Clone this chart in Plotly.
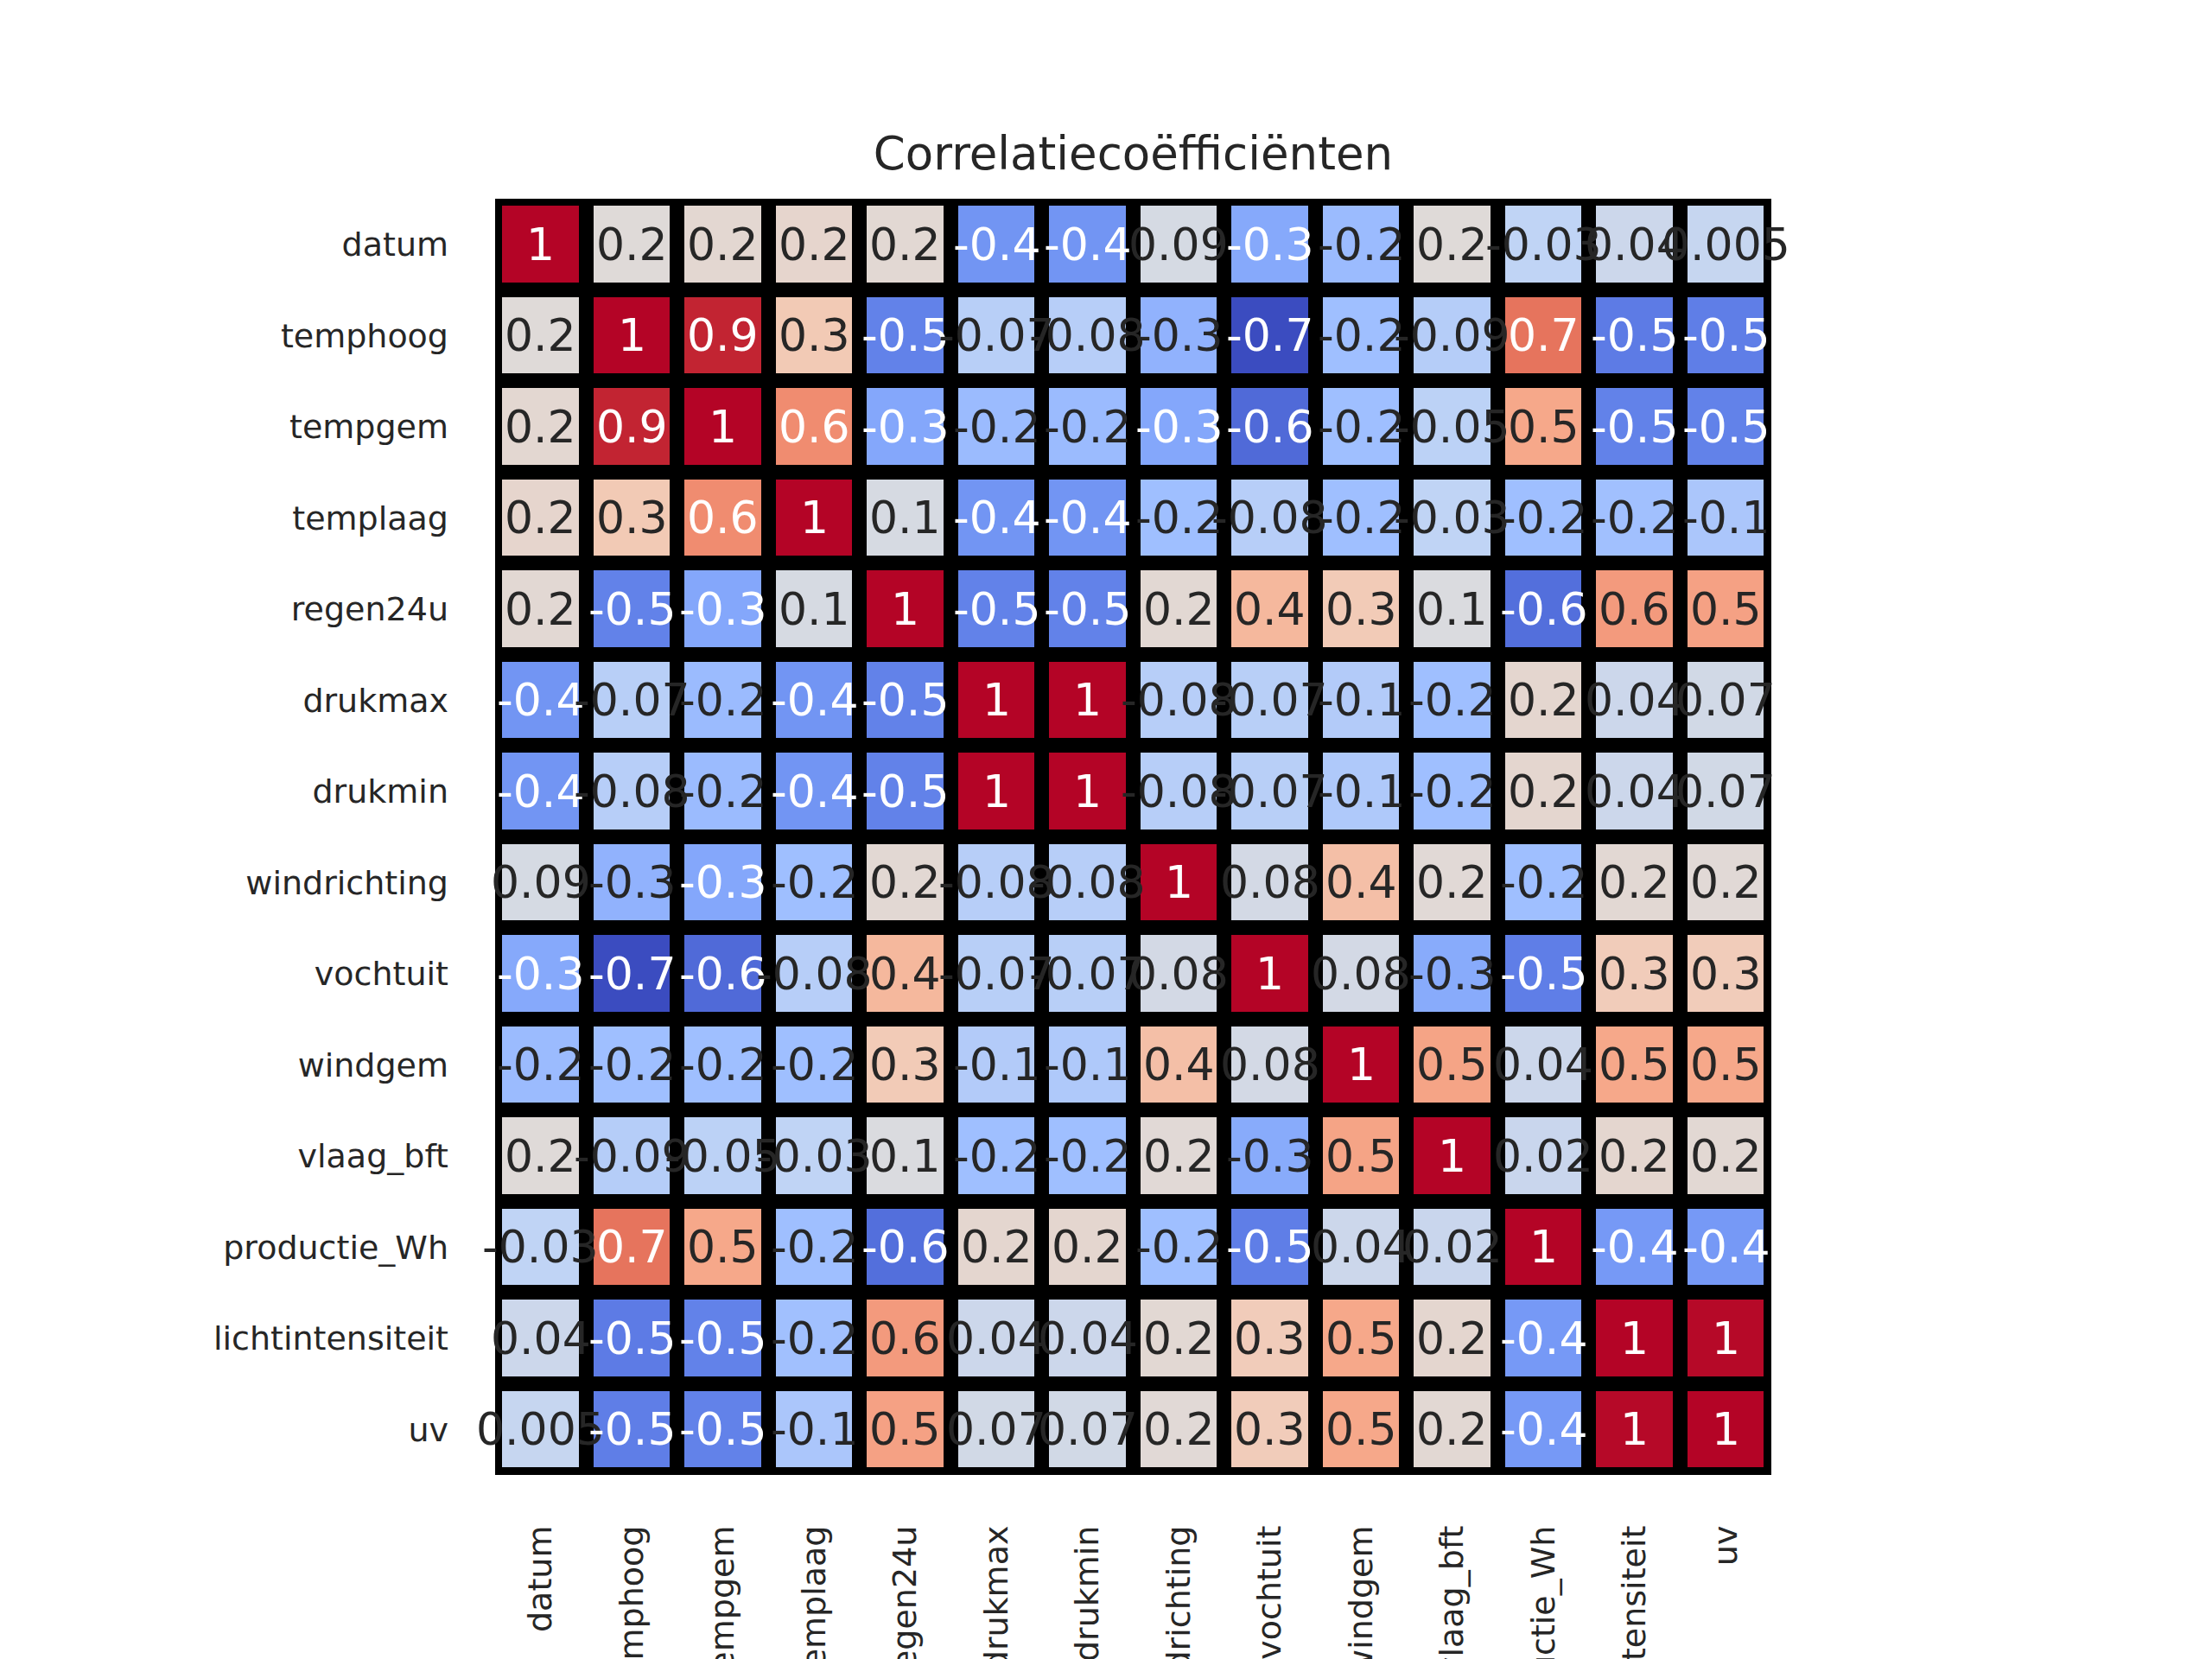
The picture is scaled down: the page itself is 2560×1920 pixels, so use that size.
import plotly.graph_objects as go

# variables in the correlation matrix
labels = ["datum", "temphoog", "tempgem", "templaag", "regen24u", "drukmax", "drukmin",
          "windrichting", "vochtuit", "windgem", "vlaag_bft", "productie_Wh",
          "lichtintensiteit", "uv"]

# upper triangle of the correlation matrix, row by row (diagonal left out)
upper_datum = [0.16, 0.19, 0.21, 0.18, -0.42, -0.42, 0.09, -0.32, -0.22, 0.16, -0.03, 0.04, 0.005]
upper_temphoog = [0.93, 0.32, -0.5, -0.07, -0.08, -0.27, -0.72, -0.2, -0.09, 0.71, -0.53, -0.52]
upper_tempgem = [0.62, -0.33, -0.22, -0.22, -0.33, -0.6, -0.2, -0.05, 0.5, -0.5, -0.5]
upper_templaag = [0.1, -0.42, -0.42, -0.2, -0.08, -0.2, -0.03, -0.2, -0.19, -0.14]
upper_regen24u = [-0.5, -0.5, 0.18, 0.42, 0.31, 0.12, -0.58, 0.56, 0.53]
upper_drukmax = [0.999, -0.08, -0.07, -0.1, -0.2, 0.2, 0.04, 0.07]
upper_drukmin = [-0.08, -0.07, -0.12, -0.2, 0.2, 0.04, 0.07]
upper_windrichting = [0.08, 0.38, 0.17, -0.2, 0.18, 0.17]
upper_vochtuit = [0.08, -0.31, -0.52, 0.3, 0.3]
upper_windgem = [0.52, 0.04, 0.5, 0.5]
upper_vlaag_bft = [0.02, 0.2, 0.18]
upper_productie = [-0.4, -0.4]
upper_licht = [0.99]

upper = [upper_datum, upper_temphoog, upper_tempgem, upper_templaag, upper_regen24u,
         upper_drukmax, upper_drukmin, upper_windrichting, upper_vochtuit, upper_windgem,
         upper_vlaag_bft, upper_productie, upper_licht, []]

# build the full symmetric matrix
n = len(labels)
corr = [[1.0] * n for _ in range(n)]
for i, row in enumerate(upper):
    for k, v in enumerate(row):
        j = i + 1 + k
        corr[i][j] = v
        corr[j][i] = v

# coolwarm colormap (11 stops)
coolwarm = ["#3b4cc0", "#5977e3", "#7b9ff9", "#9ebeff", "#c0d4f5", "#dddcdc",
            "#f2cbb7", "#f7ac8e", "#ee8468", "#d65244", "#b40426"]
colorscale = [[i / 10, c] for i, c in enumerate(coolwarm)]

zmin = min(min(r) for r in corr)
zmax = max(max(r) for r in corr)


def hex_rgb(h):
    return [int(h[k:k + 2], 16) / 255 for k in (1, 3, 5)]


def cell_color(v):
    t = (v - zmin) / (zmax - zmin) * 10
    i = min(int(t), 9)
    f = t - i
    a, b = hex_rgb(coolwarm[i]), hex_rgb(coolwarm[i + 1])
    return [a[k] + (b[k] - a[k]) * f for k in range(3)]


def luminance(rgb):
    lin = [c / 12.92 if c <= 0.03928 else ((c + 0.055) / 1.055) ** 2.4 for c in rgb]
    return 0.2126 * lin[0] + 0.7152 * lin[1] + 0.0722 * lin[2]


fig = go.Figure(go.Heatmap(
    z=corr,
    x=labels,
    y=labels,
    colorscale=colorscale,
    zmin=zmin,
    zmax=zmax,
    xgap=17,
    ygap=17,
    showscale=False,
    hoverinfo="skip",
))

# annotate each cell like seaborn does (dark text on light cells, white on dark)
annotations = []
for i in range(n):
    for j in range(n):
        v = corr[i][j]
        col = "#262626" if luminance(cell_color(v)) > 0.408 else "white"
        annotations.append(dict(
            x=labels[j], y=labels[i], text=f"{v:.1g}", showarrow=False,
            font=dict(family="DejaVu Sans", size=52, color=col),
        ))

# page body has an 8px margin, so the margins are shifted by that
fig.update_layout(
    width=2560,
    height=1920,
    margin=dict(l=565, r=518, t=222, b=221),
    paper_bgcolor="white",
    plot_bgcolor="black",
    font=dict(family="DejaVu Sans", color="#262626"),
    title=dict(text="Correlatiecoëfficiënten", x=0.5, xref="paper", xanchor="center",
               y=1 - 169 / 1920, yref="container", yanchor="middle",
               font=dict(size=53, color="#262626")),
    annotations=annotations,
)

fig.update_xaxes(showgrid=False, zeroline=False, showline=False, ticks="",
                 range=[-0.5, n - 0.5], tickangle=-90, tickfont=dict(size=38),
                 ticklabelstandoff=50, automargin=False)
fig.update_yaxes(showgrid=False, zeroline=False, showline=False, ticks="",
                 range=[n - 0.5, -0.5], tickfont=dict(size=38), ticklabelstandoff=53,
                 automargin=False)

fig.write_html("out.html")
